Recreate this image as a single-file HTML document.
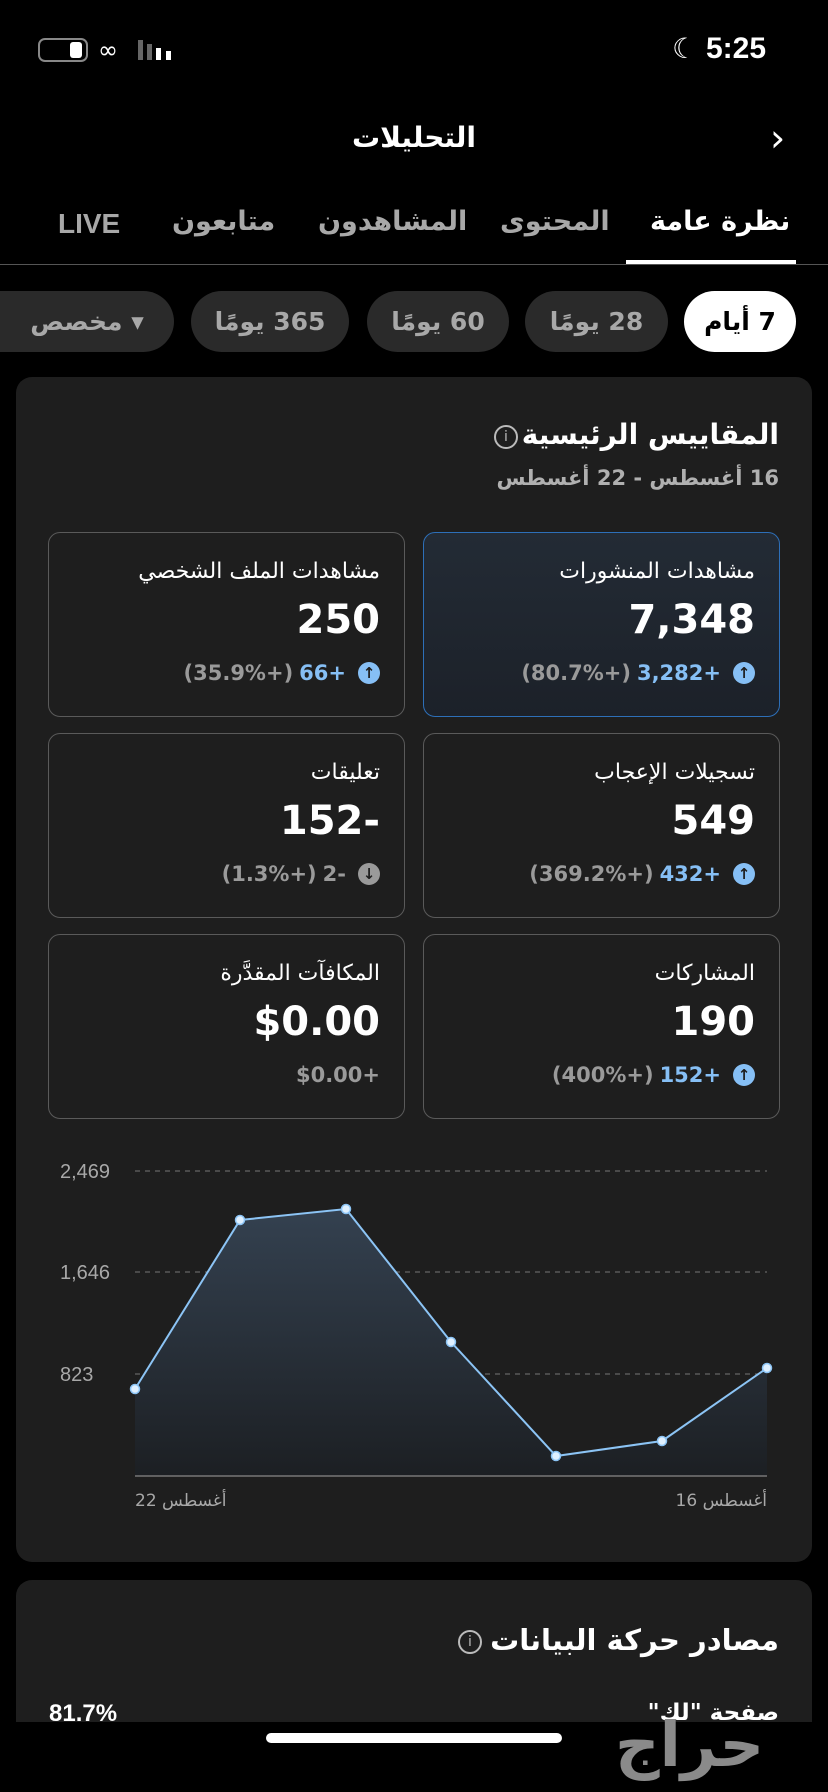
<!DOCTYPE html>
<html><head><meta charset="utf-8"><style>
*{margin:0;padding:0;box-sizing:border-box}
body{width:828px;height:1792px;background:#000;position:relative;overflow:hidden;font-family:"DejaVu Sans","Liberation Sans",sans-serif;color:#fff}
.a{position:absolute}
.r{direction:rtl;text-align:right}
.pill{position:absolute;top:291px;height:61px;border-radius:31px;background:#2a2a2a;color:#a8a8a8;font-weight:bold;font-size:25px;display:flex;align-items:center;justify-content:center;direction:rtl}
.card{position:absolute;left:16px;width:796px;background:#1e1e1e;border-radius:16px}
.box{position:absolute;width:357px;height:185px;border:1.5px solid #5a5a5a;border-radius:12px}
.lbl{position:absolute;right:24px;top:26px;font-size:22px;direction:rtl;color:#fff}
.val{position:absolute;right:24px;top:64px;font-size:40px;font-weight:bold;direction:ltr}
.chg{position:absolute;right:24px;top:128px;font-size:21px;font-weight:bold;direction:ltr;display:flex;align-items:center;gap:6px}
.chg span{unicode-bidi:bidi-override;direction:ltr}
.g{color:#9a9a9a}.b{color:#86bff5}
.chg .ic{width:22px;height:22px;border-radius:50%;background:#86bff5;color:#1e1e1e;font-size:15px;display:inline-flex;align-items:center;justify-content:center;margin-left:6px}
.chg .ic.d{background:#9a9a9a}
</style></head><body>
<!-- status bar -->
<div class="a" style="left:38px;top:38px;width:50px;height:24px;border:2px solid #888;border-radius:7px"></div>
<div class="a" style="left:70px;top:42px;width:12px;height:16px;background:#fff;border-radius:3px"></div>
<div class="a" style="left:98px;top:36px;font-size:24px;color:#fff">&#8734;</div>
<div class="a" style="left:138px;top:40px;width:5px;height:20px;background:#666"></div>
<div class="a" style="left:147px;top:44px;width:5px;height:16px;background:#666"></div>
<div class="a" style="left:156px;top:48px;width:5px;height:12px;background:#fff"></div>
<div class="a" style="left:166px;top:51px;width:5px;height:9px;background:#fff"></div>
<div class="a" style="left:672px;top:32px;font-size:28px">&#9790;</div>
<div class="a" style="left:706px;top:32px;font-size:30px;font-weight:bold;font-family:'Liberation Sans',sans-serif">5:25</div>
<!-- title -->
<div class="a" style="left:0;width:828px;top:121px;text-align:center;font-size:28px;font-weight:bold">التحليلات</div>
<div class="a" style="left:770px;top:116px;font-size:38px;color:#fff">&#8250;</div>
<!-- tabs -->
<div class="a" style="left:650px;top:206px;font-size:27px;font-weight:bold">نظرة عامة</div>
<div class="a" style="left:500px;top:206px;font-size:27px;font-weight:bold;color:#a8a8a8">المحتوى</div>
<div class="a" style="left:318px;top:206px;font-size:27px;font-weight:bold;color:#a8a8a8">المشاهدون</div>
<div class="a" style="left:172px;top:206px;font-size:27px;font-weight:bold;color:#a8a8a8">متابعون</div>
<div class="a" style="left:58px;top:208px;font-size:28px;font-weight:bold;color:#a8a8a8;font-family:'Liberation Sans',sans-serif">LIVE</div>
<div class="a" style="left:0;top:264px;width:828px;height:1px;background:#555"></div>
<div class="a" style="left:626px;top:260px;width:170px;height:4px;background:#fff"></div>
<!-- pills -->
<div class="pill" style="left:684px;width:112px;background:#fff;color:#000">7 أيام</div>
<div class="pill" style="left:525px;width:143px">28 يومًا</div>
<div class="pill" style="left:367px;width:142px">60 يومًا</div>
<div class="pill" style="left:191px;width:158px">365 يومًا</div>
<div class="pill" style="left:-40px;width:214px;padding-left:40px">▾ مخصص</div>
<!-- card 1 -->
<div class="card" style="top:377px;height:1185px"></div>
<div class="a r" style="right:49px;top:418px;font-size:28px;font-weight:bold">المقاييس الرئيسية</div>
<div class="a" style="left:494px;top:425px;width:24px;height:24px;border:2px solid #bbb;border-radius:50%;font-size:14px;text-align:center;line-height:20px;color:#bbb">i</div>
<div class="a r" style="right:49px;top:466px;font-size:21px;color:#b0b0b0;font-weight:bold">16 أغسطس - 22 أغسطس</div>

<div class="box" style="left:423px;top:532px;border-color:#2d6fb8;background:linear-gradient(180deg,#232b35,#1c2129)">
<div class="lbl">مشاهدات المنشورات</div><div class="val">7,348</div>
<div class="chg"><span class="g">(80.7%+)</span><span class="b">3,282+</span><span class="ic">↑</span></div></div>
<div class="box" style="left:48px;top:532px">
<div class="lbl">مشاهدات الملف الشخصي</div><div class="val">250</div>
<div class="chg"><span class="g">(35.9%+)</span><span class="b">66+</span><span class="ic">↑</span></div></div>
<div class="box" style="left:423px;top:733px">
<div class="lbl">تسجيلات الإعجاب</div><div class="val">549</div>
<div class="chg"><span class="g">(369.2%+)</span><span class="b">432+</span><span class="ic">↑</span></div></div>
<div class="box" style="left:48px;top:733px">
<div class="lbl">تعليقات</div><div class="val">152-</div>
<div class="chg"><span class="g">(1.3%+)</span><span class="g">2-</span><span class="ic d">↓</span></div></div>
<div class="box" style="left:423px;top:934px">
<div class="lbl">المشاركات</div><div class="val">190</div>
<div class="chg"><span class="g">(400%+)</span><span class="b">152+</span><span class="ic">↑</span></div></div>
<div class="box" style="left:48px;top:934px">
<div class="lbl">المكافآت المقدَّرة</div><div class="val">$0.00</div>
<div class="chg"><span class="g">$0.00+</span></div></div>

<svg class="a" style="left:0;top:0" width="828" height="1792">
<defs><linearGradient id="f" x1="0" y1="0" x2="0" y2="1"><stop offset="0" stop-color="#344150"/><stop offset="1" stop-color="#1c1f23"/></linearGradient></defs>
<g stroke="#666" stroke-dasharray="5,5" stroke-width="1.2">
<line x1="135" y1="1171" x2="767" y2="1171"/><line x1="135" y1="1272" x2="767" y2="1272"/><line x1="135" y1="1374" x2="767" y2="1374"/></g>
<polygon fill="url(#f)" points="135,1476 135,1389 240,1220 346,1209 451,1342 556,1456 662,1441 767,1368 767,1476"/>
<line x1="135" y1="1476" x2="767" y2="1476" stroke="#777" stroke-width="1.5"/>
<polyline fill="none" stroke="#8cc4f5" stroke-width="2" points="135,1389 240,1220 346,1209 451,1342 556,1456 662,1441 767,1368"/>
<g fill="#dff0ff" stroke="#8cc4f5" stroke-width="1.5">
<circle cx="135" cy="1389" r="4.5"/><circle cx="240" cy="1220" r="4.5"/><circle cx="346" cy="1209" r="4.5"/><circle cx="451" cy="1342" r="4.5"/><circle cx="556" cy="1456" r="4.5"/><circle cx="662" cy="1441" r="4.5"/><circle cx="767" cy="1368" r="4.5"/></g>
<g fill="#a8a8a8" font-family="Liberation Sans, sans-serif" font-size="20">
<text x="60" y="1178">2,469</text><text x="60" y="1279">1,646</text><text x="60" y="1381">823</text></g>
<g fill="#a8a8a8" font-family="DejaVu Sans, sans-serif" font-size="17">
<text x="135" y="1506" direction="rtl" text-anchor="end">أغسطس 22</text>
<text x="767" y="1506" direction="rtl" text-anchor="start">أغسطس 16</text></g>
</svg>

<!-- card 2 -->
<div class="card" style="top:1580px;height:200px"></div>
<div class="a r" style="right:49px;top:1623px;font-size:29px;font-weight:bold">مصادر حركة البيانات</div>
<div class="a" style="left:458px;top:1630px;width:24px;height:24px;border:2px solid #bbb;border-radius:50%;font-size:14px;text-align:center;line-height:20px;color:#bbb">i</div>
<div class="a r" style="right:49px;top:1700px;font-size:23px;font-weight:bold">صفحة "لك"</div>
<div class="a" style="left:49px;top:1700px;font-size:24px;font-weight:bold;font-family:'Liberation Sans',sans-serif">81.7%</div>
<div class="a" style="left:0;top:1722px;width:828px;height:70px;background:#000"></div>
<div class="a" style="left:266px;top:1733px;width:296px;height:10px;border-radius:5px;background:#fff"></div>
<div class="a" style="left:615px;top:1708px;font-size:62px;font-weight:bold;color:#8a8a8a;direction:rtl">حراج</div>
</body></html>
